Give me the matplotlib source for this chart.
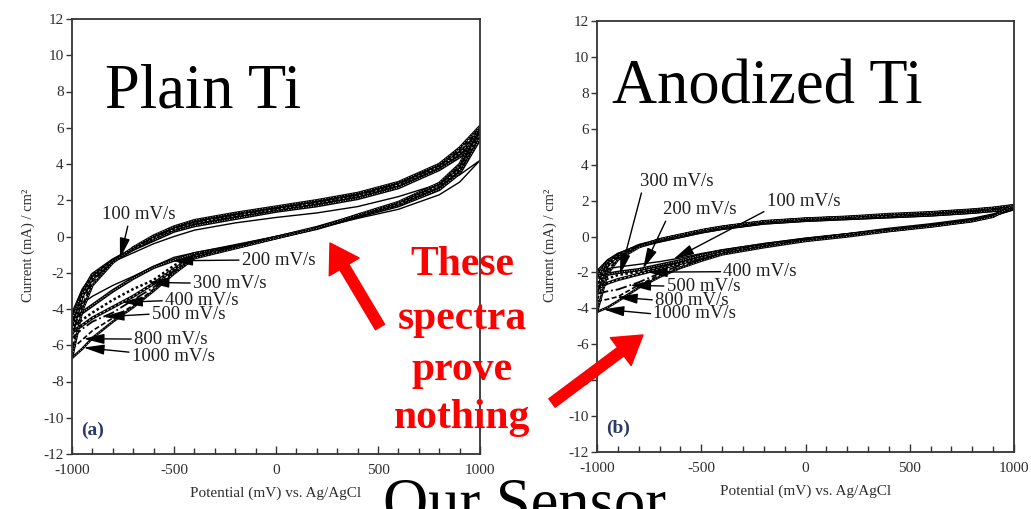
import matplotlib.pyplot as plt
import numpy as np
from matplotlib.patches import FancyArrowPatch
from matplotlib.ticker import MultipleLocator

plt.rcParams["font.family"] = ["Liberation Serif", "DejaVu Serif"]
plt.rcParams["axes.unicode_minus"] = False

W, H = 1031, 509

# potential grid (mV) shared by every sweep
potential = [-1000, -950, -900, -800, -700, -600, -500, -400, -200, 0, 200, 400, 600, 800, 900, 1000]
scan_rates = [100, 200, 300, 400, 500, 800, 1000]

# plain Ti, current density (mA/cm2): upper and lower branches of each loop
plain_up = {
    100: [-4.2, -2.9, -2.1, -1.4, -0.9, -0.4, 0.0, 0.35, 0.75, 1.05, 1.3, 1.65, 2.2, 2.9, 3.4, 4.2],
    200: [-4.6, -3.1, -2.1, -1.3, -0.7, -0.2, 0.3, 0.6, 1.0, 1.4, 1.7, 2.1, 2.7, 3.7, 4.4, 5.4],
    300: [-5.0, -3.2, -2.2, -1.3, -0.7, -0.1, 0.35, 0.7, 1.1, 1.45, 1.8, 2.2, 2.8, 3.8, 4.5, 5.6],
    400: [-5.3, -3.3, -2.3, -1.35, -0.7, -0.1, 0.4, 0.75, 1.15, 1.5, 1.85, 2.25, 2.85, 3.85, 4.6, 5.7],
    500: [-5.6, -3.5, -2.4, -1.4, -0.65, -0.05, 0.45, 0.8, 1.2, 1.55, 1.9, 2.3, 2.9, 3.9, 4.7, 5.8],
    800: [-6.2, -3.8, -2.5, -1.4, -0.6, 0.0, 0.5, 0.85, 1.25, 1.6, 1.95, 2.35, 2.95, 3.95, 4.8, 5.9],
    1000: [-6.7, -4.1, -2.7, -1.45, -0.6, 0.05, 0.55, 0.9, 1.3, 1.65, 2.0, 2.4, 3.0, 4.0, 4.9, 6.1],
}
plain_down = {
    100: [-4.2, -3.7, -3.3, -2.7, -2.2, -1.65, -1.15, -0.9, -0.45, 0.0, 0.45, 1.0, 1.5, 2.3, 3.0, 4.2],
    200: [-4.6, -4.2, -3.8, -3.0, -2.3, -1.7, -1.3, -0.95, -0.55, -0.05, 0.45, 1.1, 1.7, 2.6, 3.5, 5.4],
    300: [-5.0, -4.6, -4.2, -3.5, -2.9, -2.4, -1.6, -1.0, -0.55, -0.05, 0.45, 1.1, 1.75, 2.7, 3.6, 5.6],
    400: [-5.3, -4.9, -4.5, -3.9, -3.3, -2.6, -1.8, -1.1, -0.6, -0.05, 0.5, 1.15, 1.8, 2.8, 3.7, 5.7],
    500: [-5.6, -5.1, -4.7, -4.2, -3.5, -2.8, -1.9, -1.15, -0.6, -0.1, 0.5, 1.15, 1.85, 2.85, 3.8, 5.8],
    800: [-6.2, -5.7, -5.2, -4.5, -3.8, -2.9, -2.0, -1.2, -0.65, -0.1, 0.45, 1.2, 1.9, 2.9, 3.9, 5.9],
    1000: [-6.7, -6.2, -5.6, -4.7, -3.9, -3.0, -2.05, -1.2, -0.65, -0.1, 0.45, 1.2, 1.9, 2.95, 4.0, 6.1],
}

# anodized Ti
anod_up = {
    100: [-1.9, -1.3, -0.95, -0.55, -0.3, -0.05, 0.2, 0.4, 0.7, 0.85, 0.95, 1.05, 1.15, 1.3, 1.4, 1.5],
    200: [-2.2, -1.4, -1.0, -0.55, -0.25, 0.0, 0.25, 0.45, 0.75, 0.9, 1.0, 1.1, 1.2, 1.35, 1.45, 1.55],
    300: [-2.6, -1.5, -1.0, -0.5, -0.2, 0.05, 0.3, 0.5, 0.8, 0.95, 1.05, 1.15, 1.25, 1.4, 1.5, 1.6],
    400: [-2.9, -1.6, -1.05, -0.5, -0.2, 0.05, 0.3, 0.5, 0.8, 0.95, 1.05, 1.15, 1.3, 1.45, 1.55, 1.65],
    500: [-3.2, -1.7, -1.1, -0.5, -0.15, 0.1, 0.35, 0.55, 0.85, 1.0, 1.1, 1.2, 1.3, 1.45, 1.55, 1.7],
    800: [-3.6, -1.9, -1.2, -0.55, -0.15, 0.1, 0.35, 0.55, 0.85, 1.0, 1.1, 1.2, 1.35, 1.5, 1.6, 1.75],
    1000: [-4.2, -2.1, -1.3, -0.6, -0.15, 0.1, 0.35, 0.55, 0.85, 1.0, 1.1, 1.25, 1.35, 1.5, 1.6, 1.75],
}
anod_down = {
    100: [-1.9, -1.8, -1.7, -1.55, -1.4, -1.2, -0.95, -0.75, -0.4, -0.1, 0.15, 0.4, 0.65, 0.95, 1.15, 1.5],
    200: [-2.2, -2.1, -2.0, -1.85, -1.6, -1.35, -1.05, -0.8, -0.45, -0.15, 0.1, 0.4, 0.65, 0.95, 1.2, 1.55],
    300: [-2.6, -2.35, -2.15, -1.95, -1.7, -1.45, -1.15, -0.85, -0.5, -0.15, 0.1, 0.35, 0.6, 0.9, 1.15, 1.6],
    400: [-2.9, -2.6, -2.4, -2.1, -1.8, -1.5, -1.2, -0.9, -0.5, -0.2, 0.1, 0.35, 0.6, 0.9, 1.15, 1.65],
    500: [-3.2, -3.05, -2.95, -2.55, -2.05, -1.6, -1.25, -0.95, -0.55, -0.2, 0.05, 0.3, 0.6, 0.9, 1.15, 1.7],
    800: [-3.6, -3.5, -3.35, -2.7, -2.15, -1.7, -1.3, -0.95, -0.55, -0.25, 0.05, 0.3, 0.55, 0.85, 1.1, 1.75],
    1000: [-4.2, -3.95, -3.6, -2.85, -2.25, -1.75, -1.35, -1.0, -0.6, -0.25, 0.0, 0.3, 0.55, 0.85, 1.1, 1.75],
}

# scan-rate callouts: rate, text x, text y, potential the arrow points at, branch, anchor on text
plain_labels = [
    (100, -853, 1.19, -765, "up", (0.36, 0.0)),
    (200, -168, -1.30, -510, "down", (0.0, 0.5)),
    (300, -407, -2.57, -626, "down", (0.0, 0.5)),
    (400, -544, -3.54, -756, "down", (0.0, 0.5)),
    (500, -609, -4.28, -846, "down", (0.0, 0.5)),
    (800, -696, -5.66, -944, "down", (0.0, 0.5)),
    (1000, -707, -6.63, -944, "down", (0.0, 0.75)),
]
anod_labels = [
    (100, -186, 1.94, -634, "down", (0.0, 0.0)),
    (200, -682, 1.48, -779, "down", (0.05, 0.0)),
    (300, -794, 3.05, -890, "down", (0.03, 0.0)),
    (400, -394, -1.96, -762, "down", (0.0, 0.5)),
    (500, -666, -2.76, -842, "down", (0.0, 0.5)),
    (800, -722, -3.54, -906, "down", (0.0, 0.5)),
    (1000, -730, -4.31, -970, "down", (0.0, 0.5)),
]

# each sweep gets its own trace style; white overlays give the speckled look
styles = {
    100: [dict(color="k", lw=1.0)],
    200: [dict(color="k", lw=2.5), dict(color="w", lw=0.6, ls=(0, (1, 2)))],
    300: [dict(color="k", lw=1.8, ls=(0, (1, 1)))],
    400: [dict(color="k", lw=2.3), dict(color="w", lw=0.6, ls=(0, (2, 3)))],
    500: [dict(color="k", lw=1.3, ls="-.")],
    800: [dict(color="k", lw=1.2, ls=(0, (3, 1.5)))],
    1000: [dict(color="k", lw=1.8), dict(color="w", lw=0.5, ls=(0, (1, 3)))],
}

TICK_GREY = "#2e2e2e"


def fx(px):
    return px / W


def fy(py):
    return 1 - py / H


def draw_panel(ax, up, down, labels, tag):
    for rate in scan_rates:
        xs = potential + potential[::-1]
        ys = down[rate] + up[rate][::-1]
        for st in styles[rate]:
            ax.plot(xs, ys, solid_capstyle="round", **st)

    for rate, tx, ty, tip_e, branch, rel in labels:
        src = up if branch == "up" else down
        tip_i = np.interp(tip_e, potential, src[rate])
        ax.annotate(
            f"{rate} mV/s", xy=(tip_e, tip_i), xytext=(tx, ty),
            ha="left", va="center", fontsize=13.5, color="#1e1e1e",
            arrowprops=dict(arrowstyle="-|>,head_length=0.9,head_width=0.22",
                            color="k", lw=1.0, shrinkA=0, shrinkB=0,
                            relpos=rel, mutation_scale=14),
        )

    ax.text(-955, -10.7, tag, fontsize=14, fontweight="bold", color="#2b3a67",
            ha="left", va="center")

    ax.set_xlim(-1000, 1000)
    ax.set_ylim(-12, 12)
    ax.set_xticks([-1000, -500, 0, 500, 1000])
    ax.xaxis.set_minor_locator(MultipleLocator(100))
    ax.set_yticks(range(-12, 13, 2))
    ax.tick_params(axis="x", which="both", direction="in", length=4, width=1.0,
                   color="#333333", labelcolor=TICK_GREY, labelsize=11, pad=7)
    ax.tick_params(axis="x", which="major", length=6)
    ax.tick_params(axis="y", direction="out", length=4, width=1.0,
                   color="#333333", labelcolor=TICK_GREY, labelsize=11, pad=2)
    for sp in ax.spines.values():
        sp.set_linewidth(1.3)
        sp.set_color("#333333")

    ax.set_xlabel("Potential (mV) vs. Ag/AgCl", fontsize=11, color=TICK_GREY)
    ax.set_ylabel("Current (mA) / cm²", fontsize=10.5, color=TICK_GREY)
    ax.xaxis.set_label_coords(0.5, -0.075)
    ax.yaxis.set_label_coords(-0.09, 0.48)


fig = plt.figure(figsize=(W / 100, H / 100), dpi=100)
ax_a = fig.add_axes([fx(72), 1 - 454 / H, (480 - 72) / W, (454 - 19) / H])
ax_b = fig.add_axes([fx(597), 1 - 452 / H, (1014 - 597) / W, (452 - 21) / H])

draw_panel(ax_a, plain_up, plain_down, plain_labels, "(a)")
draw_panel(ax_b, anod_up, anod_down, anod_labels, "(b)")
ax_b.yaxis.set_label_coords(-0.096, 0.48)

# slide titles
fig.text(fx(105), fy(107), "Plain Ti", fontsize=45, va="baseline", ha="left")
fig.text(fx(612), fy(103), "Anodized Ti", fontsize=45, va="baseline", ha="left")
fig.text(fx(383), fy(521), "Our Sensor", fontsize=45, va="baseline", ha="left")

# red comment in the middle
for line, base in [("These", 275), ("spectra", 329), ("prove", 380), ("nothing", 428)]:
    fig.text(fx(462), fy(base), line, fontsize=30, fontweight="bold", color="#ff0000",
             ha="center", va="baseline")

for tail, tip in [((380, 327), (330, 243)), ((552, 403), (643, 335))]:
    arrow = FancyArrowPatch(
        (fx(tail[0]), fy(tail[1])), (fx(tip[0]), fy(tip[1])),
        transform=fig.transFigure,
        arrowstyle="simple,head_length=1.0,head_width=1.25,tail_width=0.38",
        mutation_scale=20, color="#ff0000", shrinkA=0, shrinkB=0,
    )
    fig.add_artist(arrow)

fig.savefig("out.png", dpi=100)
